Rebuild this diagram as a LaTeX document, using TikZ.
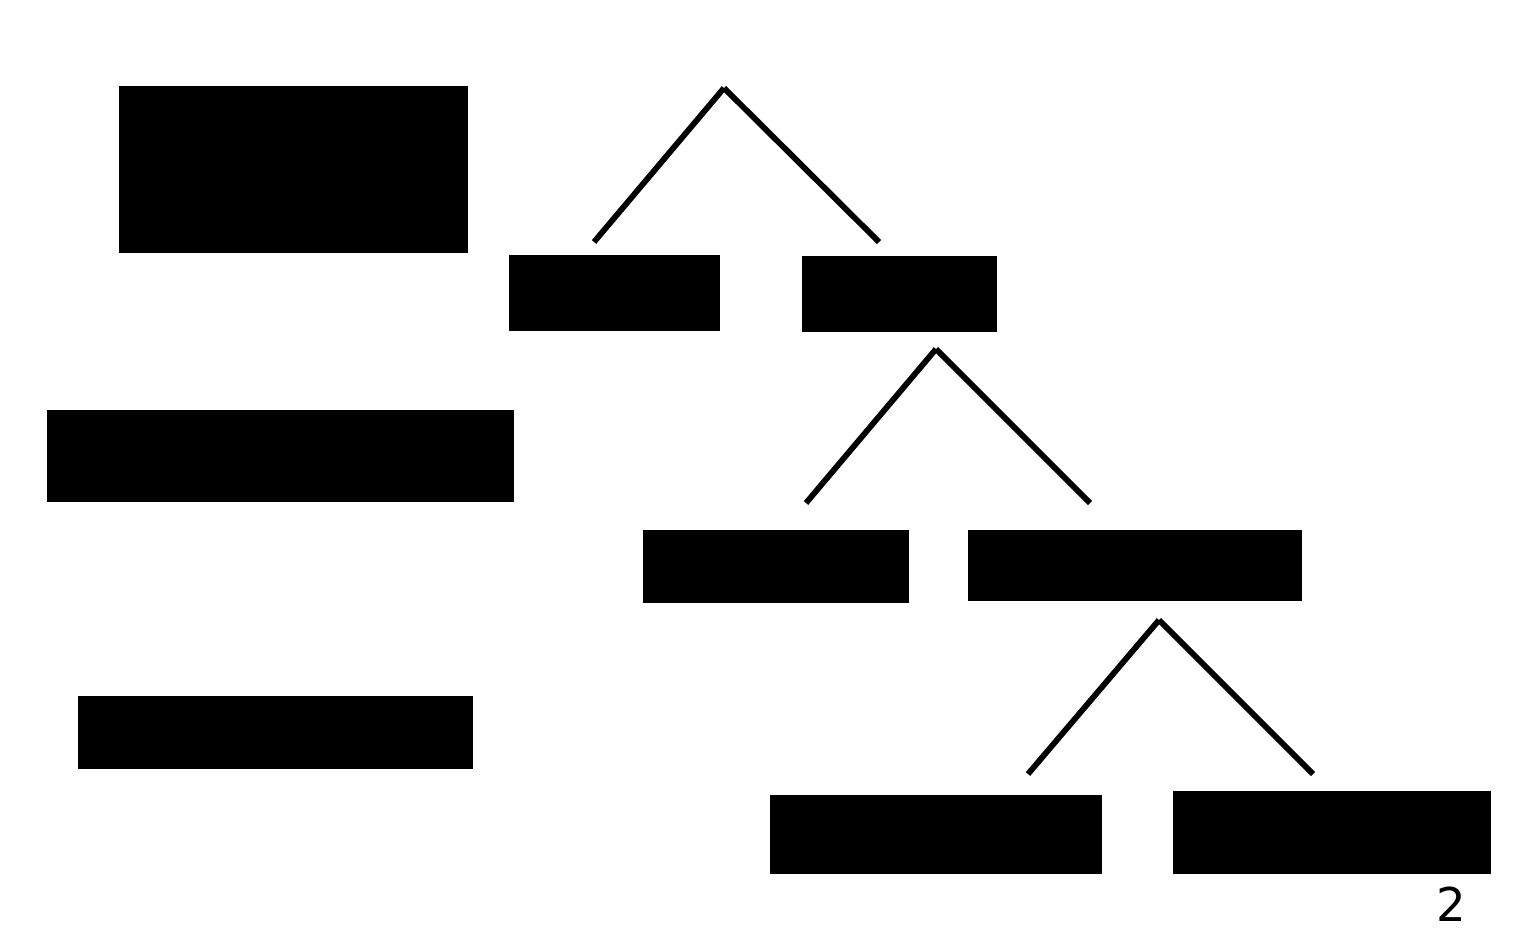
\documentclass[tikz,border=0pt]{standalone}
\usepackage{fontspec}
\setmainfont{DejaVu Sans}
\usepackage{tikz}
\usetikzlibrary{positioning}

\begin{document}
\begin{tikzpicture}[x=0.02cm, y=-0.02cm,
		blk/.style={rectangle, fill=black, draw=none, inner sep=0pt, anchor=north west},
		branch/.style={line width=3.3pt, black}]
				\useasboundingbox (0,0) rectangle (1527,933);
				
				\node[blk, minimum width=349*0.02cm, minimum height=167*0.02cm] (A) at (119,86) {};
				\node[blk, minimum width=211*0.02cm, minimum height=76*0.02cm] (B) at (509,255) {};
				\node[blk, minimum width=195*0.02cm, minimum height=76*0.02cm] (C) at (802,256) {};
				\node[blk, minimum width=467*0.02cm, minimum height=92*0.02cm] (D) at (47,410) {};
				\node[blk, minimum width=266*0.02cm, minimum height=73*0.02cm] (E) at (643,530) {};
				\node[blk, minimum width=334*0.02cm, minimum height=71*0.02cm] (F) at (968,530) {};
				\node[blk, minimum width=395*0.02cm, minimum height=73*0.02cm] (G) at (78,696) {};
				\node[blk, minimum width=332*0.02cm, minimum height=79*0.02cm] (H) at (770,795) {};
				\node[blk, minimum width=318*0.02cm, minimum height=83*0.02cm] (I) at (1173,791) {};
				
				\coordinate (t1) at (724,88);
				\coordinate (t1l) at (594,242);
				\coordinate (t1r) at (879,242);
				\coordinate (t2) at (936,349);
				\coordinate (t2l) at (806,503);
				\coordinate (t2r) at (1090,503);
				\coordinate (t3) at (1159,620);
				\coordinate (t3l) at (1028,774);
				\coordinate (t3r) at (1313,774);
				
				\draw[branch] (t1) -- (t1l);
				\draw[branch] (t1) -- (t1r);
				\draw[branch] (t2) -- (t2l);
				\draw[branch] (t2) -- (t2r);
				\draw[branch] (t3) -- (t3l);
				\draw[branch] (t3) -- (t3r);
				
				\node[inner sep=0pt, font=\fontsize{26.5}{30}\selectfont] (page) at (1451.5,904) {2};
			\end{tikzpicture}
\end{document}
